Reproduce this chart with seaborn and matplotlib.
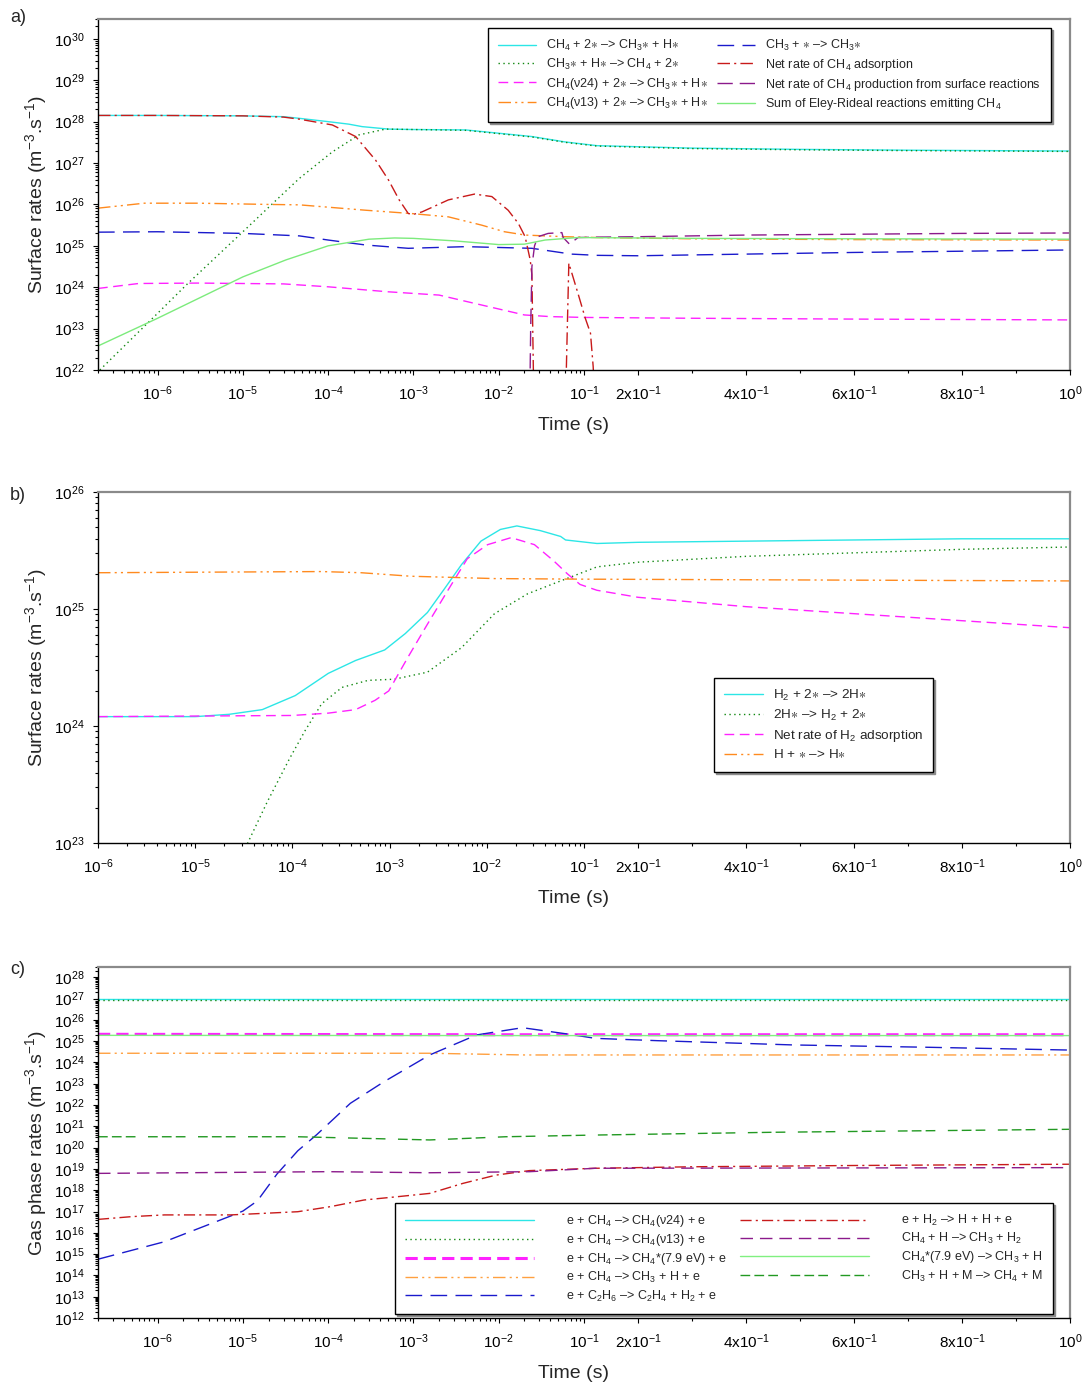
import numpy as np
import pandas as pd
import matplotlib
matplotlib.use('Agg')
import matplotlib.pyplot as plt
import seaborn as sns

sns.set_style('ticks')
plt.rcParams['font.family'] = ['Liberation Sans', 'DejaVu Sans']
plt.rcParams['mathtext.fontset'] = 'custom'
plt.rcParams['mathtext.rm'] = 'Liberation Sans'
plt.rcParams['mathtext.it'] = 'Liberation Sans:italic'
plt.rcParams['mathtext.bf'] = 'Liberation Sans:bold'
plt.rcParams['mathtext.default'] = 'regular'

# ---------------- data (time in s, rates as log10 of m-3.s-1) ----------------
# panel a) surface rates, CH4
a_cyan_t = [2e-7, 1e-6, 1e-5, 3e-5, 4.6e-5, 1e-4, 1.74e-4, 2.5e-4, 5.1e-4, 1e-3, 4.1e-3, 1e-2, 2.45e-2, 6e-2, 0.124, 0.3, 0.5, 0.7, 1.0]
a_cyan_e = [28.15, 28.15, 28.14, 28.12, 28.08, 28.0, 27.94, 27.88, 27.82, 27.81, 27.80, 27.72, 27.64, 27.51, 27.42, 27.36, 27.33, 27.31, 27.29]
a_dot_t = [2.1e-7, 1e-6, 2.26e-6, 1e-5, 2.45e-5, 4.6e-5, 1.12e-4, 2.3e-4, 4.7e-4, 1e-3, 4.1e-3, 1e-2, 2.45e-2, 6e-2, 0.124, 0.3, 0.5, 0.7, 1.0]
a_dot_e = [22.0, 23.37, 24.09, 25.34, 26.1, 26.63, 27.27, 27.68, 27.82, 27.81, 27.79, 27.71, 27.63, 27.50, 27.41, 27.35, 27.32, 27.30, 27.28]
a_mag_t = [2e-7, 6e-7, 3e-6, 3e-5, 1e-4, 5e-4, 1e-3, 2e-3, 5.2e-3, 2e-2, 4e-2, 0.1, 0.3, 0.6, 1.0]
a_mag_e = [23.97, 24.09, 24.10, 24.08, 24.01, 23.89, 23.85, 23.81, 23.61, 23.33, 23.29, 23.27, 23.25, 23.23, 23.21]
a_org_t = [2e-7, 7e-7, 3e-6, 2e-5, 4.6e-5, 2.75e-4, 9.5e-4, 2.57e-3, 6.3e-3, 1.17e-2, 2.04e-2, 6e-2, 0.124, 0.3, 0.6, 1.0]
a_org_e = [25.91, 26.03, 26.03, 26.0, 25.99, 25.86, 25.78, 25.70, 25.50, 25.34, 25.26, 25.22, 25.20, 25.17, 25.15, 25.14]
a_blue_t = [2e-7, 1e-6, 1e-5, 4.6e-5, 1e-4, 2.75e-4, 8.7e-4, 4.1e-3, 2.45e-2, 7.1e-2, 0.124, 0.2, 0.4, 0.6, 0.8, 1.0]
a_blue_e = [25.33, 25.34, 25.30, 25.24, 25.14, 25.02, 24.94, 24.98, 24.94, 24.80, 24.77, 24.76, 24.80, 24.84, 24.87, 24.90]
a_red1_t = [2e-7, 1e-6, 1e-5, 3e-5, 4.6e-5, 1.12e-4, 2.1e-4, 3.6e-4, 5.1e-4, 6.8e-4, 8.7e-4, 1e-3, 1.26e-3, 2.57e-3, 5.2e-3, 8.3e-3, 1.29e-2, 1.7e-2, 2.04e-2, 2.34e-2, 2.45e-2, 2.57e-2]
a_red1_e = [28.15, 28.15, 28.14, 28.11, 28.06, 27.92, 27.64, 27.07, 26.59, 26.11, 25.78, 25.76, 25.82, 26.11, 26.25, 26.19, 25.86, 25.54, 25.22, 24.66, 24.30, 21.5]
a_red2_t = [6.15e-2, 6.22e-2, 6.64e-2, 8.5e-2, 0.1024, 0.112, 0.117, 0.119]
a_red2_e = [21.5, 22.1, 24.58, 23.85, 23.25, 22.89, 22.08, 21.5]
a_pur_t = [2.32e-2, 2.37e-2, 2.45e-2, 2.63e-2, 2.88e-2, 3.8e-2, 5.5e-2, 5.7e-2, 6.76e-2, 8.5e-2, 0.124, 0.2, 0.4, 0.6, 0.8, 1.0]
a_pur_e = [21.5, 23.0, 24.5, 25.0, 25.22, 25.30, 25.32, 25.20, 25.04, 25.20, 25.21, 25.22, 25.26, 25.28, 25.30, 25.31]
a_lg_t = [2e-7, 1e-6, 1e-5, 3.2e-5, 1e-4, 3e-4, 6e-4, 1e-3, 3e-3, 1e-2, 2e-2, 3.5e-2, 8.5e-2, 0.3, 0.6, 1.0]
a_lg_e = [22.58, 23.25, 24.25, 24.66, 25.0, 25.16, 25.19, 25.18, 25.12, 25.03, 25.04, 25.14, 25.20, 25.18, 25.17, 25.16]

# panel b) surface rates, H2
b_cyan_t = [1e-6, 1e-5, 2.24e-5, 4.9e-5, 1.07e-4, 2.34e-4, 4.47e-4, 8.9e-4, 1.45e-3, 2.45e-3, 3.72e-3, 5.5e-3, 8.7e-3, 1.38e-2, 2.04e-2, 3.55e-2, 5.75e-2, 6.46e-2, 0.124, 0.2, 0.4, 0.6, 0.8, 1.0]
b_cyan_e = [24.08, 24.08, 24.10, 24.14, 24.26, 24.45, 24.56, 24.65, 24.79, 24.97, 25.18, 25.38, 25.58, 25.68, 25.71, 25.67, 25.62, 25.59, 25.56, 25.57, 25.58, 25.59, 25.60, 25.60]
b_dot_t = [3.0e-5, 3.47e-5, 5.5e-5, 9.33e-5, 1.35e-4, 2.0e-4, 3.24e-4, 6.0e-4, 1.12e-3, 2.45e-3, 5.5e-3, 1.2e-2, 2.63e-2, 5.75e-2, 0.124, 0.2, 0.4, 0.6, 0.8, 1.0]
b_dot_e = [22.88, 23.0, 23.35, 23.72, 23.96, 24.19, 24.33, 24.39, 24.40, 24.46, 24.67, 24.96, 25.13, 25.24, 25.36, 25.40, 25.45, 25.48, 25.51, 25.53]
b_mag_t = [1e-6, 1e-4, 2.34e-4, 4.47e-4, 7.1e-4, 9.8e-4, 1.55e-3, 2.45e-3, 3.98e-3, 6.3e-3, 1.02e-2, 1.78e-2, 3.09e-2, 4.9e-2, 6.76e-2, 9.1e-2, 0.124, 0.2, 0.4, 0.6, 0.8, 1.0]
b_mag_e = [24.08, 24.09, 24.11, 24.14, 24.22, 24.30, 24.59, 24.87, 25.16, 25.43, 25.55, 25.61, 25.55, 25.41, 25.30, 25.21, 25.16, 25.10, 25.02, 24.96, 24.90, 24.84]
b_org_t = [1e-6, 2e-4, 5.1e-4, 1.66e-3, 1.2e-2, 0.1, 1.0]
b_org_e = [25.31, 25.32, 25.31, 25.28, 25.26, 25.255, 25.24]

# panel c) gas phase rates
c_cyan_t = [2e-7, 1e-3, 1.0]
c_cyan_e = [26.96, 26.96, 26.96]
c_dot_t = [2e-7, 1e-3, 1.0]
c_dot_e = [26.95, 26.95, 26.95]
c_mag_t = [2e-7, 1e-2, 1.0]
c_mag_e = [25.32, 25.30, 25.30]
c_org_t = [2e-7, 1.55e-3, 2e-2, 0.121, 1.0]
c_org_e = [24.43, 24.43, 24.35, 24.35, 24.35]
c_blue_t = [2e-7, 1.2e-6, 7.2e-6, 1e-5, 1.48e-5, 2.5e-5, 4.4e-5, 7.4e-5, 1.82e-4, 4.5e-4, 1.55e-3, 5.5e-3, 1.9e-2, 6.76e-2, 0.121, 0.237, 0.488, 0.739, 1.0]
c_blue_e = [14.76, 15.58, 16.79, 17.02, 17.50, 18.75, 19.85, 20.62, 22.08, 23.09, 24.35, 25.29, 25.63, 25.32, 25.13, 25.02, 24.82, 24.71, 24.58]
c_red_t = [2e-7, 5e-7, 1.2e-6, 7.2e-6, 4.4e-5, 1.07e-4, 2.63e-4, 6.3e-4, 1.55e-3, 3.8e-3, 9.3e-3, 2.29e-2, 0.121, 0.3, 0.6, 1.0]
c_red_e = [16.63, 16.76, 16.84, 16.84, 16.99, 17.23, 17.54, 17.69, 17.85, 18.32, 18.71, 18.92, 19.03, 19.10, 19.16, 19.22]
c_pur_t = [2e-7, 1e-4, 1.55e-3, 2.3e-2, 0.121, 1.0]
c_pur_e = [18.79, 18.87, 18.82, 18.87, 19.03, 19.06]
c_lg_t = [2e-7, 1e-2, 1.0]
c_lg_e = [25.27, 25.26, 25.26]
c_dkg_t = [2e-7, 4.4e-5, 1.55e-3, 1.2e-2, 0.121, 0.45, 1.0]
c_dkg_e = [20.51, 20.51, 20.36, 20.51, 20.59, 20.72, 20.86]

S = r'$\ast$'
a_labels = [f'CH$_4$ + 2{S} \u2013> CH$_3${S} + H{S}',
            f'CH$_3${S} + H{S} \u2013> CH$_4$ + 2{S}',
            f'CH$_4$(\u03bd24) + 2{S} \u2013> CH$_3${S} + H{S}',
            f'CH$_4$(\u03bd13) + 2{S} \u2013> CH$_3${S} + H{S}',
            f'CH$_3$ + {S} \u2013> CH$_3${S}',
            'Net rate of CH$_4$ adsorption',
            'Net rate of CH$_4$ production from surface reactions',
            'Sum of Eley-Rideal reactions emitting CH$_4$']
b_labels = [f'H$_2$ + 2{S} \u2013> 2H{S}',
            f'2H{S} \u2013> H$_2$ + 2{S}',
            'Net rate of H$_2$ adsorption',
            f'H + {S} \u2013> H{S}']
c_labels = ['e + CH$_4$ \u2013> CH$_4$(\u03bd24) + e',
            'e + CH$_4$ \u2013> CH$_4$(\u03bd13) + e',
            'e + CH$_4$ \u2013> CH$_4$*(7.9 eV) + e',
            'e + CH$_4$ \u2013> CH$_3$ + H + e',
            'e + C$_2$H$_6$ \u2013> C$_2$H$_4$ + H$_2$ + e',
            'e + H$_2$ \u2013> H + H + e',
            'CH$_4$ + H \u2013> CH$_3$ + H$_2$',
            'CH$_4$*(7.9 eV) \u2013> CH$_3$ + H',
            'CH$_3$ + H + M \u2013> CH$_4$ + M']

x_major = [1e-6, 1e-5, 1e-4, 1e-3, 1e-2, 1e-1, 0.2, 0.4, 0.6, 0.8, 1.0]
x_major_lab = ['10$^{-6}$', '10$^{-5}$', '10$^{-4}$', '10$^{-3}$', '10$^{-2}$', '10$^{-1}$',
               '2x10$^{-1}$', '4x10$^{-1}$', '6x10$^{-1}$', '8x10$^{-1}$', '10$^{0}$']

CYAN, DGREEN, MAG, ORG = '#2CE6E6', '#118811', '#FF22FF', '#FF8A1E'
BLUE, RED, PUR, LGREEN = '#1A1ACC', '#C81A1A', '#8B1A8B', '#7CEB7C'
DOT = (0, (1, 2.5))
DASH = (0, (7, 4))
DDOT = (0, (9, 3, 1.5, 3, 1.5, 3))
LDASH = (0, (12, 6))
DASHDOT = (0, (9, 3, 1.5, 3))


def piecewise(lmin):
    # left half of the axis is log (xmin..0.1), right half is linear (0.1..1)
    span = -1.0 - lmin

    def fwd(x):
        x = np.asarray(x, dtype=float)
        with np.errstate(all='ignore'):
            lo = (np.log10(np.where(x > 0, x, np.nan)) - lmin) / span * 0.5
        hi = 0.5 + (x - 0.1) / 0.9 * 0.5
        return np.where(x <= 0.1, lo, hi)

    def inv(y):
        y = np.asarray(y, dtype=float)
        with np.errstate(all='ignore'):
            lo = 10.0 ** (lmin + np.clip(y, -5, 5) / 0.5 * span)
        hi = 0.1 + (y - 0.5) / 0.5 * 0.9
        return np.where(y <= 0.5, lo, hi)
    return fwd, inv


def draw(ax, t, e, color, ls, lw=1.0):
    df = pd.DataFrame({'t': t, 'v': 10.0 ** np.asarray(e)})
    sns.lineplot(data=df, x='t', y='v', ax=ax, color=color, linestyle=ls, lw=lw,
                 estimator=None, sort=False, legend=False)
    return ax.lines[-1]


def setup(ax, xmin, ylo, yhi, ylabel):
    ax.set_xscale('function', functions=piecewise(np.log10(xmin)))
    ax.set_yscale('log')
    ax.set_xlim(xmin, 1.0)
    ax.set_ylim(10.0 ** ylo, 10.0 ** yhi)
    ax.set_xticks(x_major, labels=x_major_lab)
    xminor = [k * 10.0 ** d for d in range(-7, -1) for k in range(2, 10)]
    xminor = [v for v in xminor if xmin * 0.999 <= v < 0.1] + [0.3, 0.5, 0.7, 0.9]
    ax.set_xticks(xminor, minor=True)
    ks = list(range(int(np.ceil(ylo)), int(np.floor(yhi)) + 1))
    ax.set_yticks([10.0 ** k for k in ks], labels=[f'10$^{{{k}}}$' for k in ks])
    yminor = [m * 10.0 ** k for k in range(int(ylo), int(yhi) + 1) for m in range(2, 10)]
    ax.set_yticks([v for v in yminor if v <= 10.0 ** yhi], minor=True)
    ax.tick_params(which='both', direction='out', width=0.8, colors='black', labelsize=11)
    ax.tick_params(which='major', length=3.5)
    ax.tick_params(which='minor', length=2)
    ax.tick_params(axis='x', which='major', pad=7)
    ax.tick_params(axis='y', which='major', pad=6)
    for s in ['left', 'bottom']:
        ax.spines[s].set_color('black')
        ax.spines[s].set_linewidth(1.0)
    for s in ['top', 'right']:
        ax.spines[s].set_visible(True)
        ax.spines[s].set_color('#8a8a8a')
        ax.spines[s].set_linewidth(1.6)
    ax.set_xlabel('Time (s)', fontsize=14)
    ax.set_ylabel(ylabel, fontsize=14, labelpad=4)
    ax.xaxis.set_label_coords(0.489, -0.134)


def legend(ax, handles, labels, x0, y0, fs=9, **kw):
    lg = ax.legend(handles, labels, loc='upper left',
                   bbox_to_anchor=(x0 / 1087, 1 - y0 / 1385), bbox_transform=fig.transFigure,
                   borderaxespad=0, fontsize=fs, frameon=True, fancybox=False, framealpha=1,
                   edgecolor='black', shadow={'ox': 1.5, 'oy': -1.5, 'color': '0.55', 'alpha': 1},
                   **kw)
    lg.get_frame().set_linewidth(1.0)
    return lg


fig = plt.figure(figsize=(10.87, 13.85), dpi=100)
H = 351 / 1385
W = 972 / 1087
L = 98 / 1087
ax_a = fig.add_axes([L, 1 - 370 / 1385, W, H])
ax_b = fig.add_axes([L, 1 - 843 / 1385, W, H])
ax_c = fig.add_axes([L, 1 - 1318 / 1385, W, H])

# ---------------- a) ----------------
h = []
h.append(draw(ax_a, a_cyan_t, a_cyan_e, CYAN, '-'))
h.append(draw(ax_a, a_dot_t, a_dot_e, DGREEN, DOT))
h.append(draw(ax_a, a_mag_t, a_mag_e, MAG, DASH))
h.append(draw(ax_a, a_org_t, a_org_e, ORG, DDOT))
h.append(draw(ax_a, a_blue_t, a_blue_e, BLUE, LDASH))
h.append(draw(ax_a, a_red1_t, a_red1_e, RED, DASHDOT))
draw(ax_a, a_red2_t, a_red2_e, RED, DASHDOT)
h.append(draw(ax_a, a_pur_t, a_pur_e, PUR, (0, (11, 5))))
h.append(draw(ax_a, a_lg_t, a_lg_e, LGREEN, '-'))
setup(ax_a, 2e-7, 22, 30.48, 'Surface rates (m$^{-3}$.s$^{-1}$)')
legend(ax_a, h, a_labels, 488, 28, ncol=2, handlelength=3.0, handletextpad=0.8,
       columnspacing=0.8, labelspacing=0.3, borderpad=0.8)

# ---------------- b) ----------------
h = []
h.append(draw(ax_b, b_cyan_t, b_cyan_e, CYAN, '-'))
h.append(draw(ax_b, b_dot_t, b_dot_e, DGREEN, DOT))
h.append(draw(ax_b, b_mag_t, b_mag_e, MAG, DASH))
h.append(draw(ax_b, b_org_t, b_org_e, ORG, DDOT))
setup(ax_b, 1e-6, 23, 26, 'Surface rates (m$^{-3}$.s$^{-1}$)')
legend(ax_b, h, b_labels, 714, 678, fs=9.7, ncol=1, handlelength=2.9, handletextpad=0.7,
       labelspacing=0.35, borderpad=0.75)

# ---------------- c) ----------------
h = []
h.append(draw(ax_c, c_cyan_t, c_cyan_e, CYAN, '-'))
h.append(draw(ax_c, c_dot_t, c_dot_e, DGREEN, DOT))
h.append(draw(ax_c, c_mag_t, c_mag_e, MAG, (0, (4, 2)), lw=2.2))
h.append(draw(ax_c, c_org_t, c_org_e, '#FFA040', DDOT))
h.append(draw(ax_c, c_blue_t, c_blue_e, BLUE, LDASH))
h.append(draw(ax_c, c_red_t, c_red_e, RED, (0, (8, 3, 1.5, 3))))
h.append(draw(ax_c, c_pur_t, c_pur_e, PUR, (0, (9, 5))))
h.append(draw(ax_c, c_lg_t, c_lg_e, '#80F080', '-'))
h.append(draw(ax_c, c_dkg_t, c_dkg_e, '#229922', (0, (7, 3, 7, 3, 7, 9))))
setup(ax_c, 2e-7, 12, 28.48, 'Gas phase rates (m$^{-3}$.s$^{-1}$)')
legend(ax_c, h, c_labels, 395, 1203, ncol=2, handlelength=10.3, handletextpad=2.6,
       columnspacing=1.0, labelspacing=0.25, borderpad=0.8)

for lab, y in [('a)', 18), ('b)', 495), ('c)', 970)]:
    fig.text(18 / 1087, 1 - y / 1385, lab, fontsize=13, ha='center', va='center')

fig.savefig('out.png', dpi=100)
